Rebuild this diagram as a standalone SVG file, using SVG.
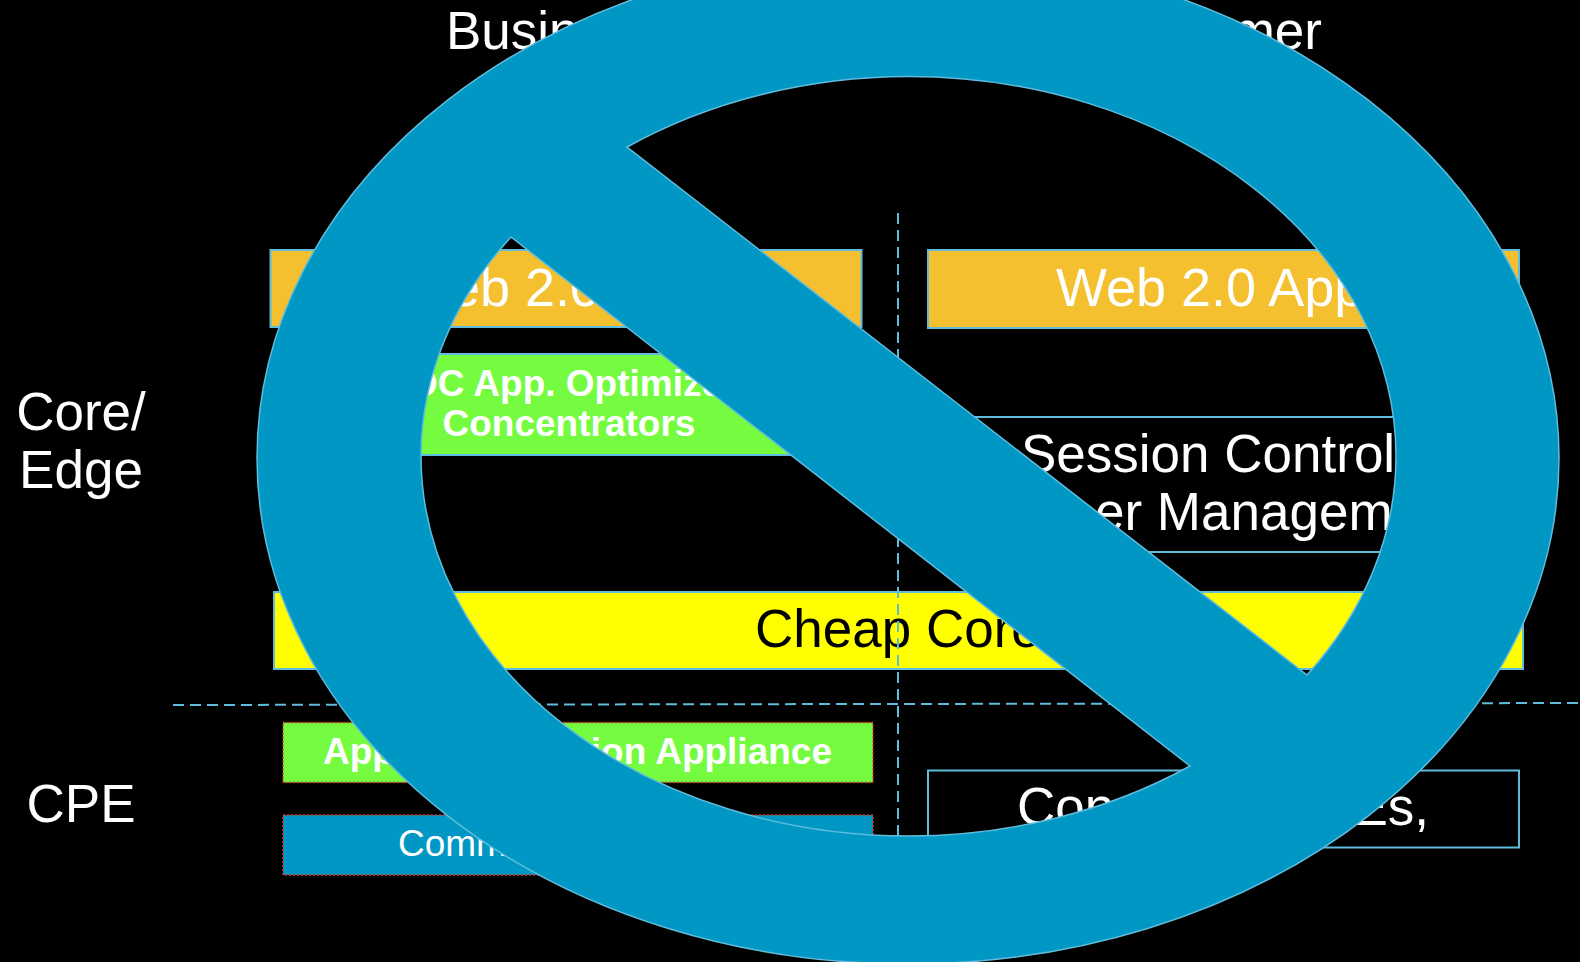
<svg xmlns="http://www.w3.org/2000/svg" width="1580" height="962" viewBox="0 0 1580 962">
<style>
text{font-family:"Liberation Sans",Arial,sans-serif;fill:#fff}
.t{font-size:53px}
.w{font-size:54px}
.b{font-size:37px;font-weight:bold}
.box{stroke:#5fbcdc;stroke-width:2}
.dot{stroke:#e03020;stroke-width:1.5;stroke-dasharray:2 2}
.dash{stroke:#5fbcdc;stroke-width:2;stroke-dasharray:11 6;fill:none}
</style>
<rect width="1580" height="962" fill="#000"/>
<g id="heading-business"><text class="t" x="446" y="49">Busin</text></g>
<g id="heading-consumer"><text class="t" x="1322" y="49" text-anchor="end">mer</text></g>
<g id="label-core-edge"><text class="t" x="81" y="430" text-anchor="middle">Core/</text><text class="t" x="81" y="488" text-anchor="middle">Edge</text></g>
<g id="label-cpe"><text class="t" x="81" y="822" text-anchor="middle">CPE</text></g>
<g id="web-left"><rect class="box" x="270.500" y="250" width="591" height="77" fill="#f4c030"/><text class="w" x="400" y="306">Web 2.0</text></g>
<g id="web-right"><rect class="box" x="928" y="250" width="591" height="78" fill="#f4c030"/><text class="w" x="1056" y="306">Web 2.0 App</text></g>
<g id="dc-optimization"><rect class="box" x="275" y="354" width="586" height="101" fill="#75fb3f"/><text class="b" x="411" y="396">DC App. Optimize</text><text class="b" x="569" y="436" text-anchor="middle">Concentrators</text></g>
<g id="session-control"><rect class="box" x="928" y="417" width="591" height="135" fill="#000"/><text class="t" x="1021" y="472">Session Control</text><text class="t" x="1095" y="530">er Managem</text></g>
<g id="cheap-core"><rect class="box" x="274" y="592" width="1249" height="77" fill="#ff0"/><text class="t" x="755" y="647" style="fill:#000">Cheap Core</text></g>
<g id="appliance"><rect class="dot" x="283" y="722.500" width="590" height="60" fill="#75fb3f"/><text class="b" x="323" y="764">App</text><text class="b" x="832" y="764" text-anchor="end">ion Appliance</text></g>
<g id="comm"><rect class="dot" x="283" y="815" width="590" height="60" fill="#0097c4"/><text x="398" y="856" font-size="37">Comm</text></g>
<g id="cpe-right"><rect class="box" x="928" y="770.500" width="591" height="77" fill="#000"/><text class="t" x="1017" y="825">Con</text><text class="t" x="1429" y="825" text-anchor="end">Es,</text></g>
<g id="connectors"><path class="dash" d="M173 705L1590 703"/><path class="dash" d="M898 213V962"/></g>
<g id="prohibition"><path fill="#0097c4" fill-rule="evenodd" stroke="#5fbcdc" stroke-width="1.500" d="M257 458A651 506 0 1 1 1559 458A651 506 0 1 1 257 458ZM627 147A487.500 380 0 0 1 908.500 76.500A487.500 380 0 0 1 1396 456A487.500 380 0 0 1 1307 675ZM511 237A487.500 380 0 0 0 421 456A487.500 380 0 0 0 908.500 836A487.500 380 0 0 0 1190 766Z"/></g>
</svg>
